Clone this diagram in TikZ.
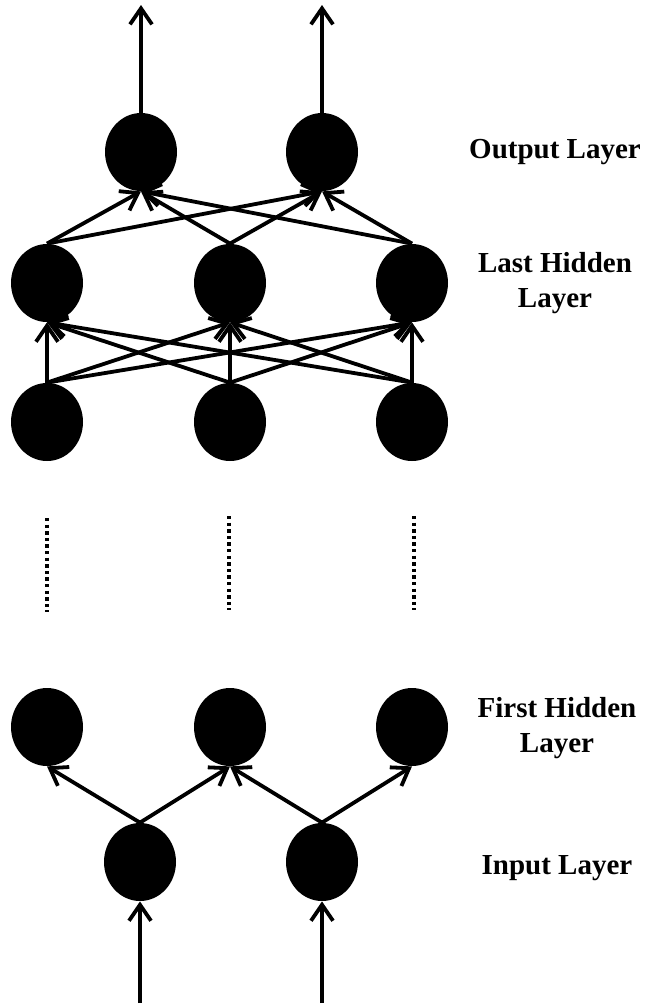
\documentclass[tikz,border=0pt]{standalone}
\usepackage{fontspec}
\setmainfont{Liberation Serif}
\usetikzlibrary{arrows.meta, shapes.geometric}

\tikzset{
  neuron/.style={ellipse, fill=black, minimum width=36pt, minimum height=39pt, inner sep=0pt},
  layername/.style={font=\bfseries\fontsize{14.5}{17.5}\selectfont, align=center},
  link/.style={line width=1.9pt, -{Straight Barb[length=8pt, width=11pt]}},
  dots/.style={line width=2pt, dash pattern=on 1.7pt off 1.6pt},
}

\begin{document}
\begin{tikzpicture}[x=0.5pt, y=-0.5pt]
\useasboundingbox (0,0) rectangle (651,1008);
% output layer
\node[neuron] (o1) at (141,152) {};
\node[neuron] (o2) at (322,152) {};
% last hidden layer
\node[neuron] (h1) at (47,283) {};
\node[neuron] (h2) at (230,283) {};
\node[neuron] (h3) at (412,283) {};
% layer below the last hidden one
\node[neuron] (m1) at (47,422) {};
\node[neuron] (m2) at (230,422) {};
\node[neuron] (m3) at (412,422) {};
% first hidden layer
\node[neuron] (f1) at (47,727) {};
\node[neuron] (f2) at (230,727) {};
\node[neuron] (f3) at (412,727) {};
% input layer
\node[neuron] (i1) at (140,862) {};
\node[neuron] (i2) at (322,862) {};

% free ends
\coordinate (out1) at (141,5);
\coordinate (out2) at (322,5);
\coordinate (in1) at (140,1003);
\coordinate (in2) at (322,1003);

\draw[link] (o1.north) -- (out1);
\draw[link] (o2.north) -- (out2);
\draw[link] (in1) -- (i1.south);
\draw[link] (in2) -- (i2.south);

\foreach \s in {1,2,3}
  \foreach \t in {1,2}
    \draw[link] (h\s.north) -- (o\t.south);
\foreach \s in {1,2,3}
  \foreach \t in {1,2,3}
    \draw[link] (m\s.north) -- (h\t.south);

\draw[link] (i1.north) -- (f1.south);
\draw[link] (i1.north) -- (f2.south);
\draw[link] (i2.north) -- (f2.south);
\draw[link] (i2.north) -- (f3.south);

% the layers in between
\draw[dots] (47,518) -- (47,612);
\draw[dots] (229,516) -- (229,610);
\draw[dots] (414,516) -- (414,610);

% names
\node[layername] (lo) at (555,152) {Output Layer};
\node[layername] (lh) at (555,283) {Last Hidden\\Layer};
\node[layername] (lf) at (557,728) {First Hidden\\Layer};
\node[layername] (li) at (557,868) {Input Layer};
\end{tikzpicture}
\end{document}
